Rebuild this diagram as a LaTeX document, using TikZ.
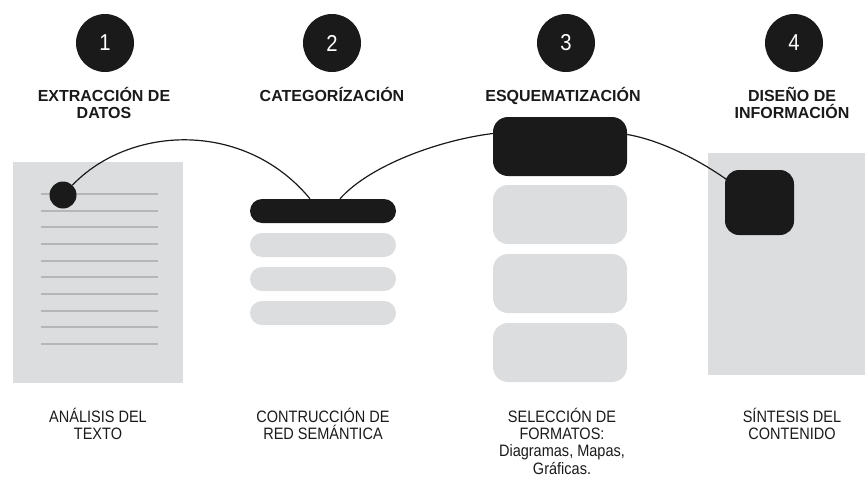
\documentclass[tikz,border=0pt]{standalone}
\usepackage{fontspec}
\setmainfont{Liberation Sans}
\newfontfamily\narrowfont[FakeStretch=0.88]{Liberation Sans}
\usetikzlibrary{positioning}

\definecolor{panel}{HTML}{DCDDDF}
\definecolor{rule}{HTML}{B4B6B9}
\definecolor{ink}{HTML}{1A1A1A}

\begin{document}
\begin{tikzpicture}[x=1pt,y=-1pt,
  stepnum/.style={circle,fill=ink,minimum size=58pt,inner sep=0pt,text=white,
    font=\narrowfont\fontsize{23}{23}\selectfont},
  title/.style={anchor=north,inner sep=0pt,align=center,text=ink,
    font=\fontsize{16}{17.5}\selectfont\bfseries},
  caption/.style={anchor=north,inner sep=0pt,align=center,text=ink,
    font=\narrowfont\fontsize{16.5}{17.2}\selectfont},
  sheet/.style={fill=panel,inner sep=0pt},
  bar/.style={rounded corners=12pt,inner sep=0pt,minimum width=146pt,minimum height=24pt},
  tile/.style={rounded corners=15pt,inner sep=0pt,minimum width=134pt,minimum height=59pt},
  link/.style={ink,line width=1.2pt}]
  \useasboundingbox (0,0) rectangle (865,477);
  \pgfmathsetmacro\lstep{16.67}  % spacing of text lines on the sheet

% step numbers and titles
  \node[stepnum] (n1) at (105,43) {1};
  \node[stepnum] (n2) at (332,43) {2};
  \node[stepnum] (n3) at (566,43) {3};
  \node[stepnum] (n4) at (794,43) {4};
  \node[title] (t1) at (104,87) {EXTRACCIÓN DE\\DATOS};
  \node[title] (t2) at (332,87) {CATEGORÍZACIÓN};
  \node[title] (t3) at (563,87) {ESQUEMATIZACIÓN};
  \node[title] (t4) at (792,87) {DISEÑO DE\\INFORMACIÓN};

% 1: text sheet
  \node[sheet,minimum width=170pt,minimum height=221pt] (doc) at (98,272.5) {};
  \foreach \k in {0,...,9}
    \draw[rule,line width=2pt] (41,194+\lstep*\k) -- (158,194+\lstep*\k);
  \node[circle,fill=ink,minimum size=27pt,inner sep=0pt] (dot) at (63,195) {};

% 2: semantic net
  \node[bar,fill=ink] (cat) at (323,211) {};
  \node[bar,fill=panel] (cat1) at (323,245) {};
  \node[bar,fill=panel] (cat2) at (323,279) {};
  \node[bar,fill=panel] (cat3) at (323,313) {};

% 3: formats
  \node[tile,fill=ink] (sel) at (560,146.5) {};
  \node[tile,fill=panel] (sel1) at (560,214.5) {};
  \node[tile,fill=panel] (sel2) at (560,283.5) {};
  \node[tile,fill=panel] (sel3) at (560,352.5) {};

% 4: synthesis
  \node[sheet,minimum width=157pt,minimum height=222pt] (syn) at (786.5,264) {};
  \node[fill=ink,rounded corners=14pt,inner sep=0pt,minimum width=69pt,minimum height=65pt]
    (fin) at (759.5,202.5) {};

% connecting curve
  \draw[link] (dot) .. controls (130,125) and (245,120) .. ([xshift=-13pt]cat.north);
  \draw[link] ([xshift=17pt]cat.north) .. controls (370,165) and (440,140) .. ([yshift=13pt]sel.west);
  \draw[link] ([yshift=12pt]sel.east) .. controls (660,140) and (700,160) .. ([xshift=6pt,yshift=20pt]fin.west);

% captions
  \node[caption] (c1) at (98,408) {ANÁLISIS DEL\\TEXTO};
  \node[caption] (c2) at (323,408) {CONTRUCCIÓN DE\\RED SEMÁNTICA};
  \node[caption] (c3) at (562,408) {SELECCIÓN DE\\FORMATOS:\\Diagramas, Mapas,\\Gráficas.};
  \node[caption] (c4) at (792,408) {SÍNTESIS DEL\\CONTENIDO};
\end{tikzpicture}
\end{document}
